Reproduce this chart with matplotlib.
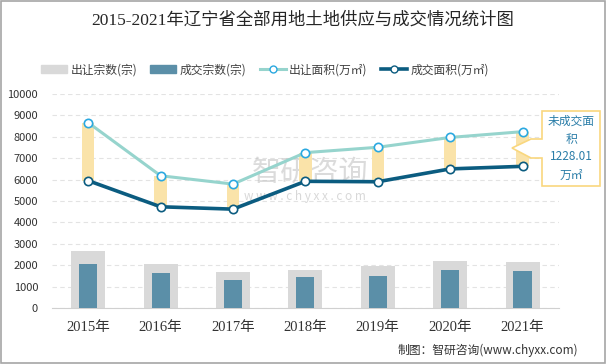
import matplotlib
matplotlib.use("Agg")
import numpy as np
from matplotlib import pyplot as plt
from matplotlib.patches import Rectangle, Polygon
from matplotlib.lines import Line2D

plt.rcParams['font.family'] = ['Noto Sans CJK SC', 'DejaVu Sans']

years = ["2015年", "2016年", "2017年", "2018年", "2019年", "2020年", "2021年"]
supply_count = [2660, 2040, 1680, 1760, 1980, 2200, 2160]
deal_count = [2040, 1650, 1320, 1450, 1510, 1780, 1740]
supply_area = [8660, 6180, 5790, 7260, 7510, 7970, 8240]
deal_area = [5950, 4730, 4620, 5920, 5900, 6500, 6620]
gap_note = "未成交面\n积\n1228.01\n万㎡"

x = np.arange(len(years))
gap = np.array(supply_area) - np.array(deal_area)

fig = plt.figure(figsize=(6.06, 3.64), dpi=100)
ax = fig.add_axes([0.0858, 0.1538, 0.8362, 0.588])

ax.bar(x, supply_count, width=0.47, color="#D9D9D9", zorder=2)
ax.bar(x, deal_count, width=0.25, color="#5B8FA8", zorder=3)
ax.bar(x, gap, bottom=deal_area, width=0.17, color="#FAE3A9", zorder=3)
ax.plot(x, supply_area, color="#96D4CD", lw=2.2, marker="o", ms=6,
        mfc="white", mec="#2AA8E0", mew=1.2, zorder=5)
ax.plot(x, deal_area, color="#0B5C80", lw=2.6, marker="o", ms=6,
        mfc="white", mec="#0B5C80", mew=1.2, zorder=5)

ax.set_xlim(-0.5, 6.5)
ax.set_ylim(0, 10000)
ax.set_yticks(np.arange(0, 10001, 1000))
ax.yaxis.grid(True, color="#E3E3E3", ls=(0, (4, 3)), lw=0.8, zorder=0)
ax.set_axisbelow(True)
for s in ["top", "right", "left"]:
    ax.spines[s].set_visible(False)
ax.spines["bottom"].set_color("#D0D0D0")
ax.tick_params(axis="both", length=0, colors="#333333")
ax.tick_params(axis="y", labelsize=8, pad=10)
ax.set_xticks(x)
ax.set_xticklabels(years, family=["Liberation Serif", "Noto Sans CJK SC"], fontsize=10.5)
ax.tick_params(axis="x", pad=9)

fig.text(0.5, 0.945, "2015-2021年辽宁省全部用地土地供应与成交情况统计图",
         ha="center", va="center", fontsize=12.5, color="#262626",
         family=["Liberation Serif", "Noto Sans CJK SC"])

handles = [Rectangle((0, 0), 1, 1, color="#D9D9D9"),
           Rectangle((0, 0), 1, 1, color="#5B8FA8"),
           Line2D([], [], color="#96D4CD", lw=2.2, marker="o", ms=5, mfc="white", mec="#2AA8E0"),
           Line2D([], [], color="#0B5C80", lw=2.6, marker="o", ms=5, mfc="white", mec="#0B5C80")]
labels = ["出让宗数(宗)", "成交宗数(宗)", "出让面积(万㎡)", "成交面积(万㎡)"]
fig.legend(handles, labels, loc="center", bbox_to_anchor=(0.437, 0.808), ncol=4,
           frameon=False, fontsize=8.5, handlelength=2.2, handleheight=0.6,
           columnspacing=1.1, handletextpad=0.3, labelcolor="#404040")

# watermark
ax.text(0.51, 0.63, "智研咨询", transform=ax.transAxes, ha="center", va="center",
        fontsize=21, color="#BFBFBF", alpha=0.55, zorder=1)
ax.text(0.50, 0.52, "w w w . c h y x x . c o m", transform=ax.transAxes, ha="center",
        va="center", fontsize=8.5, color="#BFBFBF", alpha=0.6, zorder=1)

# callout
pts = [(542, 111), (600, 111), (600, 186), (542, 186), (542, 158), (531, 158),
       (512, 148), (531, 139), (542, 139)]
pts = [(px / 606, 1 - py / 364) for px, py in pts]
fig.patches.append(Polygon(pts, closed=True, transform=fig.transFigure,
                           facecolor="white", edgecolor="#F9D77E", lw=1.2, zorder=6))
fig.text(571 / 606, 1 - 148 / 364, gap_note, ha="center", va="center", fontsize=8.5,
         color="#2A7DA8", linespacing=1.5, zorder=7)

fig.text(578 / 606, 1 - 350 / 364, "制图：智研咨询(www.chyxx.com)", ha="right",
         va="center", fontsize=8.5, color="#333333")

fig.patches.append(Rectangle((0.001, 0.002), 0.997, 0.995, transform=fig.transFigure,
                             fill=False, edgecolor="#A6A6A6", lw=1.2))

fig.savefig("out.png", dpi=100)
